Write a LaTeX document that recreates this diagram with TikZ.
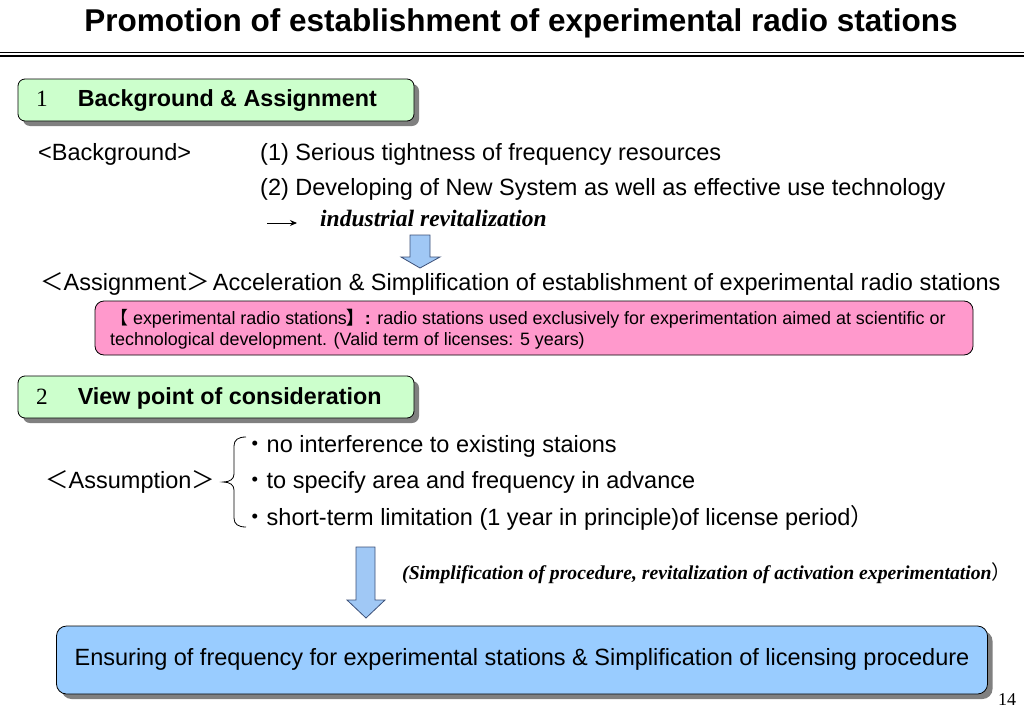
\documentclass[tikz,border=0pt]{standalone}
\usepackage{fontspec}
\setmainfont{Liberation Sans}
\newfontfamily\serifrm{Liberation Serif}
\newfontfamily\cjk{Noto Sans CJK JP}
\usetikzlibrary{shadows,arrows.meta}
\definecolor{gfill}{RGB}{204,255,204}
\definecolor{pfill}{RGB}{255,153,204}
\definecolor{bfill}{RGB}{153,204,255}
\definecolor{afill}{RGB}{160,200,245}
\definecolor{aline}{RGB}{60,80,120}
\definecolor{shad}{RGB}{128,128,128}
\tikzset{
  shd/.style={drop shadow={shadow xshift=5pt,shadow yshift=-5pt,fill=shad,opacity=1}},
  gbox/.style={draw=black,line width=0.8pt,fill=gfill,rounded corners=7pt,minimum width=396pt,minimum height=42pt,shd},
  pbox/.style={draw=black,line width=0.8pt,fill=pfill,rounded corners=9pt,minimum width=878pt,minimum height=54pt},
  bbox/.style={draw=black,line width=0.8pt,fill=bfill,rounded corners=10pt,minimum width=931pt,minimum height=68pt,shd},
  body/.style={inner sep=0pt,font=\fontsize{23.5}{28}\selectfont},
  small/.style={inner sep=0pt,font=\fontsize{17.9}{21}\selectfont},
  blockarrow/.style={draw=aline,line width=0.8pt,fill=afill}
}
\begin{document}
\begin{tikzpicture}[x=1pt,y=-1pt]
\useasboundingbox (0,0) rectangle (1024,709);
% title
\node[inner sep=0pt,font=\fontsize{31.5}{36}\selectfont\bfseries] (title) at (521,23) {Promotion of establishment of experimental radio stations};
\draw[line width=1pt] (0,52.5) -- (1024,52.5);
\draw[line width=2.6pt] (0,56) -- (1024,56);
% section 1
\node[gbox] (s1) at (216,100) {};
\node[inner sep=0pt,anchor=west,font=\fontsize{23.3}{28}\selectfont] (s1t) at (36,101) {{\serifrm 1}\hspace{30pt}\bfseries Background \& Assignment};
\node[body,anchor=west] (bg) at (38,154) {<Background>};
\node[body,anchor=west] (bg1) at (260,154) {(1) Serious tightness of frequency resources};
\node[body,anchor=west] (bg2) at (260,189) {(2) Developing of New System as well as effective use technology};
\coordinate (ra) at (267,223);
\coordinate (rb) at (297,223);
\draw[line width=1pt,-{Stealth[length=7pt,width=6pt]}] (ra) -- (rb);
\node[inner sep=0pt,anchor=west,font=\fontsize{23.5}{28}\selectfont\serifrm\bfseries\itshape] (ind) at (320,218) {industrial revitalization};
\draw[blockarrow] (410,235) -- (430,235) -- (430,257) -- (440,257) -- (420,268) -- (401,257) -- (410,257) -- cycle;
\node[body,anchor=west] (as) at (40,284) {{\cjk ＜}Assignment{\cjk ＞}\hspace{3pt}Acceleration \& Simplification of establishment of experimental radio stations};
\node[pbox] (def) at (534,328) {};
\node[small,anchor=west,align=left] (deft) at (110,329.5) {{\cjk 【} experimental radio stations{\cjk\bfseries 】}\textbf{:} radio stations used exclusively for experimentation aimed at scientific or\\[0pt] technological development. (Valid term of licenses: 5 years)};
% section 2
\node[gbox] (s2) at (216,397) {};
\node[inner sep=0pt,anchor=west,font=\fontsize{23.3}{28}\selectfont] (s2t) at (36,398) {{\serifrm 2}\hspace{30pt}\bfseries View point of consideration};
\node[body,anchor=west] (asm) at (45,482) {{\cjk ＜}Assumption{\cjk ＞}};
\draw[line width=0.8pt] (246,437) .. controls (238,437) and (234,440) .. (234,446) -- (234,474) .. controls (234,479) and (230,482) .. (223,482) .. controls (230,482) and (234,485) .. (234,490) -- (234,518) .. controls (234,524) and (238,527) .. (246,527);
\node[body,anchor=west] (p1) at (243,446) {{\cjk ・}no interference to existing staions};
\node[body,anchor=west] (p2) at (243,482) {{\cjk ・}to specify area and frequency in advance};
\node[body,anchor=west] (p3) at (243,518) {{\cjk ・}short-term limitation (1 year in principle)of license period{\cjk ）}};
\draw[blockarrow] (356,547) -- (375,547) -- (375,600) -- (385,600) -- (366,618) -- (347,600) -- (356,600) -- cycle;
\node[inner sep=0pt,anchor=west,font=\fontsize{19.7}{23}\selectfont\serifrm\bfseries\itshape] (simp) at (402,573) {(Simplification of procedure, revitalization of activation experimentation{\upshape\mdseries\cjk ）}};
\node[bbox] (res) at (522,660) {};
\node[body] (rest) at (522,659) {Ensuring of frequency for experimental stations \& Simplification of licensing procedure};
\node[inner sep=0pt,font=\fontsize{18}{20}\selectfont\serifrm] (pg) at (1007,700) {14};
\end{tikzpicture}
\end{document}
